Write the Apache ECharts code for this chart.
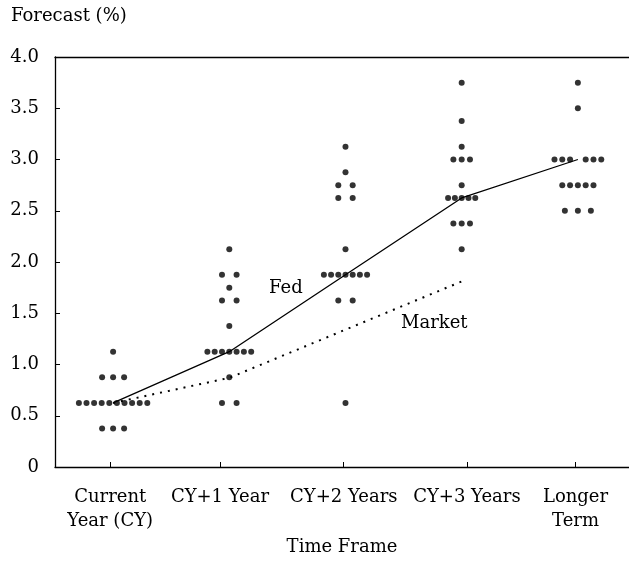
<!DOCTYPE html>
<html>
<head>
<meta charset="utf-8">
<script src="https://cdn.jsdelivr.net/npm/echarts@6/dist/echarts.min.js"></script>
<style>
  html, body { margin: 0; padding: 0; background: #fff; }
  #chart { width: 629px; height: 573px; }
</style>
</head>
<body>
<div id="chart"></div>
<script>
// Time frames shown along the horizontal axis
const categories = ['Current\nYear (CY)', 'CY+1 Year', 'CY+2 Years', 'CY+3 Years', 'Longer\nTerm'];

// Individual participant projections: [rate, number of participants]
const dotsCY  = [[0.375, 3], [0.625, 10], [0.875, 3], [1.125, 1]];
const dotsCY1 = [[0.625, 2], [0.875, 1], [1.125, 7], [1.375, 1], [1.625, 2], [1.75, 1], [1.875, 2], [2.125, 1]];
const dotsCY2 = [[0.625, 1], [1.625, 2], [1.875, 7], [2.125, 1], [2.625, 2], [2.75, 2], [2.875, 1], [3.125, 1]];
const dotsCY3 = [[2.125, 1], [2.375, 3], [2.625, 5], [2.75, 1], [3.0, 3], [3.125, 1], [3.375, 1], [3.75, 1]];
const dotsLT  = [[2.5, 3], [2.75, 5], [3.0, 6], [3.5, 1], [3.75, 1]];

// Median path of the committee and the market-implied path
const fedMedian  = [0.625, 1.125, 1.875, 2.625, 3.0];
const marketPath = [0.625, 0.87, 1.34, 1.81];

// Y-axis tick labels
const yTickLabels = ['0', '0.5', '1.0', '1.5', '2.0', '2.5', '3.0', '3.5', '4.0'];

// ---- layout helpers (presentation only) ----
// horizontal pitch (px) of dots within a row, per time frame
const rowPitch = [
  { 3: 11, def: 7.6 },
  { 2: 14.6, def: 7.3 },
  { 2: 14.4, def: 7.2 },
  { 3: 8.3, def: 6.8 },
  { 3: 13, def: 7.8 }
];
// where each time-frame caption and tick sits on the x scale
const captionAt = [0.975, 1.92, 2.985, 4.045, 4.98];

const allDots = [dotsCY, dotsCY1, dotsCY2, dotsCY3, dotsLT];
const dotData = [];
allDots.forEach((rows, ci) => {
  rows.forEach(([rate, n]) => {
    const pitch = rowPitch[ci][n] || rowPitch[ci].def;
    let slots = [];
    if (ci === 4 && n === 6) {
      slots = [-3, -2, -1, 1, 2, 3]; // split row around the median
    } else {
      for (let k = 0; k < n; k++) slots.push(k - (n - 1) / 2);
    }
    slots.forEach(s => {
      dotData.push({ value: [ci + 1, rate], symbolOffset: [s * pitch, 0] });
    });
  });
});

const FONT = 'DejaVu Serif';
const FS = 18;

const chart = echarts.init(document.getElementById('chart'), null, { renderer: 'canvas' });
chart.setOption({
  animation: false,
  backgroundColor: '#fff',
  grid: { left: 55, right: 0, top: 57, bottom: 106 },
  xAxis: [{
    type: 'value',
    min: 0.5,
    max: 5.44,
    splitLine: { show: false },
    axisLine: { show: true, onZero: false, lineStyle: { color: '#000', width: 1.3 } },
    axisTick: { show: true, inside: true, length: 5, customValues: captionAt, lineStyle: { color: '#000', width: 1 } },
    axisLabel: {
      customValues: captionAt,
      formatter: (v) => {
        let best = 0;
        captionAt.forEach((c, i) => { if (Math.abs(c - v) < Math.abs(captionAt[best] - v)) best = i; });
        return categories[best];
      },
      margin: 18,
      color: '#000',
      fontFamily: FONT,
      fontSize: FS,
      lineHeight: 24,
      align: 'center'
    },
    name: 'Time Frame',
    nameLocation: 'middle',
    nameGap: 65,
    nameTextStyle: { color: '#000', fontFamily: FONT, fontSize: FS }
  }, {
    type: 'value',
    position: 'top',
    min: 0.5,
    max: 5.44,
    splitLine: { show: false },
    axisLine: { show: true, onZero: false, lineStyle: { color: '#000', width: 1.3 } },
    axisTick: { show: false },
    axisLabel: { show: false }
  }],
  yAxis: {
    type: 'value',
    min: 0,
    max: 4,
    interval: 0.5,
    splitLine: { show: false },
    axisLine: { show: true, onZero: false, lineStyle: { color: '#000', width: 1.3 } },
    axisTick: { show: true, inside: true, length: 5, lineStyle: { color: '#000', width: 1 } },
    axisLabel: {
      formatter: (v) => yTickLabels[Math.round(v / 0.5)],
      margin: 16,
      color: '#000',
      fontFamily: FONT,
      fontSize: FS
    }
  },
  graphic: [
    { type: 'text', left: 11, top: 7, style: { text: 'Forecast (%)', fill: '#000', font: FS + 'px "' + FONT + '"' } },
    { type: 'text', x: 269, y: 288, style: { text: 'Fed', fill: '#000', font: FS + 'px "' + FONT + '"', verticalAlign: 'middle' } },
    { type: 'text', x: 401, y: 323, style: { text: 'Market', fill: '#000', font: FS + 'px "' + FONT + '"', verticalAlign: 'middle' } }
  ],
  series: [
    {
      name: 'Participants',
      type: 'scatter',
      symbol: 'circle',
      symbolSize: 6,
      itemStyle: { color: '#000' },
      data: dotData,
      z: 3
    },
    {
      name: 'Fed',
      type: 'line',
      data: fedMedian.map((v, i) => [i + 1, v]),
      symbol: 'none',
      lineStyle: { color: '#000', width: 1.3 },
      z: 2
    },
    {
      name: 'Market',
      type: 'line',
      data: marketPath.map((v, i) => [i + 1, v]),
      symbol: 'none',
      lineStyle: { color: '#000', width: 2, type: [2, 6] },
      z: 2
    }
  ]
});
</script>
</body>
</html>
